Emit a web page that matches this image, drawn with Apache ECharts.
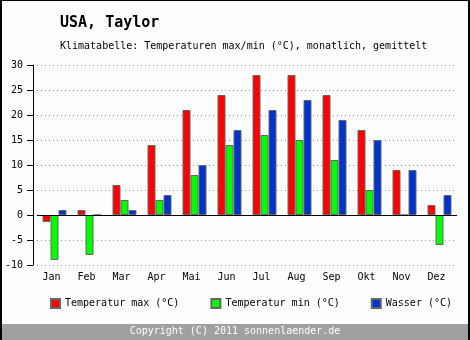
<!DOCTYPE html>
<html>
<head>
<meta charset="utf-8">
<style>
  html, body { margin: 0; padding: 0; background: #fdfffd; }
  #chart { width: 470px; height: 340px; }
</style>
<script src="https://cdn.jsdelivr.net/npm/echarts@6/dist/echarts.min.js"></script>
</head>
<body>
<div id="chart"></div>
<script>
// Monthly climate values for Taylor, USA (°C)
const months = ['Jan', 'Feb', 'Mar', 'Apr', 'Mai', 'Jun', 'Jul', 'Aug', 'Sep', 'Okt', 'Nov', 'Dez'];
const tempMax = [-1.4, 1, 6, 14, 21, 24, 28, 28, 24, 17, 9, 2];
const tempMin = [-9, -8, 3, 3, 8, 14, 16, 15, 11, 5, 0, -6];
const wasser = [1, 0, 1, 4, 10, 17, 21, 23, 19, 15, 9, 4];

const seriesNames = ['Temperatur max (°C)', 'Temperatur min (°C)', 'Wasser (°C)'];
const seriesColors = ['#ff0000', '#00ff00', '#0033cc'];

const mono = '"DejaVu Sans Mono", "Liberation Mono", monospace';

const chart = echarts.init(document.getElementById('chart'), null, { renderer: 'canvas' });

function bar(i, data) {
  const s = {
    name: seriesNames[i],
    type: 'bar',
    data: data,
    barWidth: 8,
    barGap: '0%',
    itemStyle: { color: seriesColors[i], borderColor: '#666666', borderWidth: 1 },
    emphasis: { disabled: true },
    animation: false
  };
  if (i === 0) {
    // solid zero line across the plot
    s.markLine = {
      silent: true,
      symbol: 'none',
      label: { show: false },
      lineStyle: { color: '#000', width: 1, type: 'solid' },
      data: [{ yAxis: 0 }],
      animation: false
    };
  }
  return s;
}

chart.setOption({
  backgroundColor: '#fdfffd',
  animation: false,
  textStyle: { fontFamily: mono },
  title: [
    {
      text: 'USA, Taylor',
      left: 60, top: 16, padding: 0,
      textStyle: { fontFamily: mono, fontSize: 15, fontWeight: 'bold', color: '#000' }
    },
    {
      text: 'Klimatabelle: Temperaturen max/min (°C), monatlich, gemittelt',
      left: 60, top: 41, padding: 0,
      textStyle: { fontFamily: mono, fontSize: 10, fontWeight: 'normal', color: '#000' }
    }
  ],
  legend: {
    left: 50, top: 298, padding: 0,
    itemWidth: 9, itemHeight: 9,
    itemGap: 31,
    icon: 'rect',
    selectedMode: false,
    textStyle: { fontFamily: mono, fontSize: 10, color: '#000' },
    data: seriesNames
  },
  grid: { left: 37, right: 13, top: 65, bottom: 75, containLabel: false },
  xAxis: {
    type: 'category',
    data: months,
    axisLine: { show: false, onZero: false },
    axisTick: { show: false },
    axisLabel: {
      color: '#000', fontFamily: mono, fontSize: 10, margin: 7,
      padding: [0, 6, 0, 0]
    }
  },
  yAxis: {
    type: 'value',
    min: -10, max: 30, interval: 5,
    offset: 4,
    axisLine: { show: true, lineStyle: { color: '#000', width: 1 } },
    axisTick: { show: true, length: 6, lineStyle: { color: '#000' } },
    axisLabel: { color: '#000', fontFamily: mono, fontSize: 10, margin: 10 },
    splitLine: { show: true, lineStyle: { color: '#999999', type: [1, 3], width: 1 } }
  },
  series: [bar(0, tempMax), bar(1, tempMin), bar(2, wasser)],
  graphic: [
    {
      type: 'rect', silent: true, z: 100,
      shape: { x: 0, y: 324, width: 470, height: 16 },
      style: { fill: '#a0a0a0' }
    },
    {
      type: 'text', silent: true, z: 101,
      left: 'center', top: 326,
      style: { text: 'Copyright (C) 2011 sonnenlaender.de', fill: '#fff', font: '10px ' + mono }
    },
    {
      type: 'rect', silent: true, z: 102,
      shape: { x: 0, y: 0, width: 2, height: 340 }, style: { fill: '#000' }
    },
    {
      type: 'rect', silent: true, z: 102,
      shape: { x: 468, y: 0, width: 2, height: 340 }, style: { fill: '#000' }
    },
    {
      type: 'rect', silent: true, z: 102,
      shape: { x: 0, y: 0, width: 470, height: 1 }, style: { fill: '#000' }
    }
  ]
});
</script>
</body>
</html>
